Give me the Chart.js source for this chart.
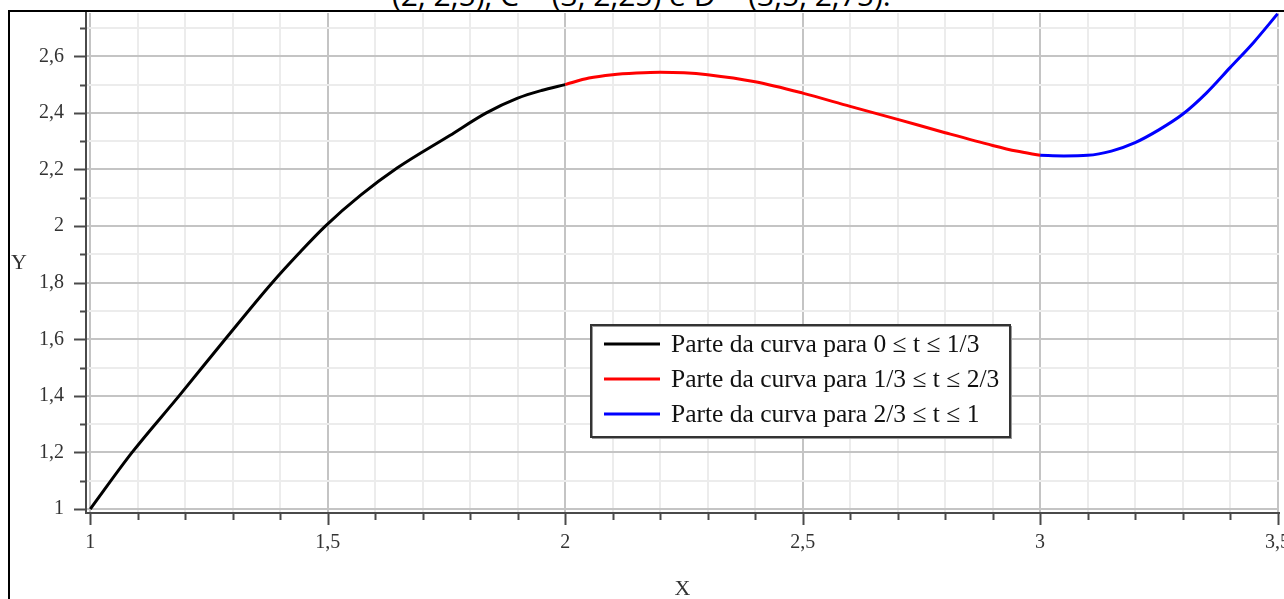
<!DOCTYPE html>
<html>
<head>
<meta charset="utf-8">
<title>Curva por partes</title>
<script src="https://cdn.jsdelivr.net/npm/chart.js@4.4.1/dist/chart.umd.min.js"></script>
<style>
  body { margin: 0; background: #fff; }
  #wrap { position: relative; width: 1284px; height: 599px; overflow: hidden; }
  #caption {
    position: absolute; left: 392px; top: -20px;
    font-family: "Open Sans", sans-serif; font-size: 30px; line-height: 30px;
    color: #000; white-space: nowrap;
  }
  #frame {
    position: absolute; left: 8px; top: 10px; width: 1290px; height: 600px;
    border-top: 2px solid #000; border-left: 2px solid #000;
  }
  #plot { position: absolute; left: 0; top: 0; }
</style>
</head>
<body>
<div id="wrap">
  <div id="caption">(2, 2,5), C = (3, 2,25) e D = (3,5, 2,75).</div>
  <div id="frame"></div>
  <canvas id="plot" width="1284" height="599"></canvas>
</div>
<script>
// values
var labels = [
  "Parte da curva para 0 \u2264 t \u2264 1/3",
  "Parte da curva para 1/3 \u2264 t \u2264 2/3",
  "Parte da curva para 2/3 \u2264 t \u2264 1"
];
var colors = ["#000000", "#ff0000", "#0000ff"];

var blackX = [1, 1.088, 1.187, 1.284, 1.383, 1.44, 1.495, 1.57, 1.646, 1.757, 1.834, 1.9, 1.95, 2];
var blackY = [1, 1.2, 1.4, 1.6, 1.8, 1.905, 2.0, 2.11, 2.205, 2.32, 2.4, 2.452, 2.479, 2.5];

var redX = [2, 2.05, 2.1, 2.15, 2.2, 2.25, 2.3, 2.4, 2.5, 2.6, 2.7, 2.8, 2.9, 2.95, 3];
var redY = [2.5, 2.523, 2.535, 2.541, 2.544, 2.542, 2.535, 2.51, 2.47, 2.423, 2.377, 2.33, 2.285, 2.265, 2.25];

var blueX = [3, 3.05, 3.1, 3.15, 3.2, 3.25, 3.3, 3.35, 3.4, 3.45, 3.5];
var blueY = [2.25, 2.248, 2.25, 2.265, 2.295, 2.34, 2.395, 2.47, 2.56, 2.65, 2.75];

var xMajor = [1, 1.5, 2, 2.5, 3, 3.5];
var xTickLabels = ["1", "1,5", "2", "2,5", "3", "3,5"];
var xMinor = [1.1, 1.2, 1.3, 1.4, 1.6, 1.7, 1.8, 1.9, 2.1, 2.2, 2.3, 2.4, 2.6, 2.7, 2.8, 2.9, 3.1, 3.2, 3.3, 3.4];

var yMajor = [1, 1.2, 1.4, 1.6, 1.8, 2, 2.2, 2.4, 2.6];
var yTickLabels = ["1", "1,2", "1,4", "1,6", "1,8", "2", "2,2", "2,4", "2,6"];
var yMinor = [1.1, 1.3, 1.5, 1.7, 1.9, 2.1, 2.3, 2.5, 2.7];

function pts(xs, ys) {
  return xs.map(function (x, i) { return { x: x, y: ys[i] }; });
}

function findIdx(list, v) {
  for (var i = 0; i < list.length; i++) {
    if (Math.abs(list[i] - v) < 1e-6) return i;
  }
  return -1;
}

function setTicks(major, minor) {
  return function (scale) {
    var all = major.concat(minor).sort(function (a, b) { return a - b; });
    scale.ticks = all.map(function (v) { return { value: v }; });
  };
}

// keep the plot area where the layout padding puts it, labels may overflow
function fixSize(prop, size) {
  return function (s) {
    s[prop] = size;
    s.paddingLeft = s.paddingRight = s.paddingTop = s.paddingBottom = 0;
  };
}

var serif = "'Liberation Serif', 'Times New Roman', serif";

// short/long tick marks, outside the axes
var tickMarks = {
  id: "tickMarks",
  afterDraw: function (chart) {
    var ctx = chart.ctx, xs = chart.scales.x, ys = chart.scales.y;
    var a = chart.chartArea;
    ctx.save();
    ctx.strokeStyle = "#4a4a4a";
    ctx.lineWidth = 2;
    xs.ticks.forEach(function (t) {
      var p = Math.round(xs.getPixelForValue(t.value)) + 0.5;
      var len = findIdx(xMajor, t.value) >= 0 ? 12 : 7;
      ctx.beginPath(); ctx.moveTo(p, a.bottom); ctx.lineTo(p, a.bottom + len); ctx.stroke();
    });
    ys.ticks.forEach(function (t) {
      var p = Math.round(ys.getPixelForValue(t.value)) + 0.5;
      var len = findIdx(yMajor, t.value) >= 0 ? 12 : 6;
      ctx.beginPath(); ctx.moveTo(a.left, p); ctx.lineTo(a.left - len, p); ctx.stroke();
    });
    // Y title, upright
    ctx.fillStyle = "#333";
    ctx.font = "22px " + serif;
    ctx.textAlign = "center";
    ctx.textBaseline = "middle";
    ctx.fillText("Y", 19, (a.top + a.bottom) / 2);
    ctx.restore();
  }
};

// legend box inside the plot
var boxLegend = {
  id: "boxLegend",
  afterDraw: function (chart) {
    var ctx = chart.ctx;
    var bx = 591, by = 325, bw = 419, bh = 112;
    ctx.save();
    ctx.fillStyle = "#fff";
    ctx.fillRect(bx, by, bw, bh);
    ctx.strokeStyle = "#9a9a9a";
    ctx.lineWidth = 1;
    ctx.strokeRect(bx + 1.5, by + 1.5, bw, bh);
    ctx.strokeStyle = "#333";
    ctx.lineWidth = 2;
    ctx.strokeRect(bx, by, bw, bh);
    ctx.font = "25.5px " + serif;
    ctx.textBaseline = "middle";
    ctx.textAlign = "left";
    chart.data.datasets.forEach(function (ds, i) {
      var y = by + 19 + i * 35;
      ctx.strokeStyle = ds.borderColor;
      ctx.lineWidth = 3;
      ctx.beginPath(); ctx.moveTo(bx + 13, y); ctx.lineTo(bx + 69, y); ctx.stroke();
      ctx.fillStyle = "#111";
      ctx.fillText(ds.label, bx + 80, y + 1);
    });
    ctx.restore();
  }
};

function gridColor(major, strong, light) {
  return function (c) {
    if (!c.tick) return light;
    return findIdx(major, c.tick.value) >= 0 ? strong : light;
  };
}

new Chart(document.getElementById("plot"), {
  type: "line",
  data: {
    datasets: [
      { label: labels[0], data: pts(blackX, blackY), borderColor: colors[0] },
      { label: labels[1], data: pts(redX, redY), borderColor: colors[1] },
      { label: labels[2], data: pts(blueX, blueY), borderColor: colors[2] }
    ]
  },
  options: {
    responsive: false,
    animation: false,
    layout: { padding: { top: 13, right: 5, left: 0, bottom: 0 } },
    elements: {
      line: { borderWidth: 3, cubicInterpolationMode: "monotone", fill: false },
      point: { radius: 0 }
    },
    plugins: { legend: { display: false }, tooltip: { enabled: false } },
    scales: {
      x: {
        type: "linear",
        min: 0.991,
        max: 3.503,
        afterBuildTicks: setTicks(xMajor, xMinor),
        afterFit: fixSize("height", 86),
        grid: {
          color: gridColor(xMajor, "#c4c4c4", "#ececec"),
          lineWidth: 2,
          drawTicks: false
        },
        border: { display: true, color: "#4a4a4a", width: 2 },
        ticks: {
          autoSkip: false,
          maxRotation: 0,
          padding: 18,
          color: "#333",
          font: { family: serif, size: 20 },
          callback: function (v) {
            var i = findIdx(xMajor, v);
            return i >= 0 ? xTickLabels[i] : "";
          }
        },
        title: {
          display: true,
          text: "X",
          color: "#333",
          font: { family: serif, size: 22 },
          padding: { top: 0, bottom: -3 }
        }
      },
      y: {
        type: "linear",
        min: 0.986,
        max: 2.753,
        afterBuildTicks: setTicks(yMajor, yMinor),
        afterFit: fixSize("width", 86),
        grid: {
          color: gridColor(yMajor, "#c4c4c4", "#ececec"),
          lineWidth: 2,
          drawTicks: false
        },
        border: { display: true, color: "#4a4a4a", width: 2 },
        ticks: {
          autoSkip: false,
          padding: 22,
          color: "#333",
          font: { family: serif, size: 20 },
          callback: function (v) {
            var i = findIdx(yMajor, v);
            return i >= 0 ? yTickLabels[i] : "";
          }
        }
      }
    }
  },
  plugins: [tickMarks, boxLegend]
});
</script>
</body>
</html>
